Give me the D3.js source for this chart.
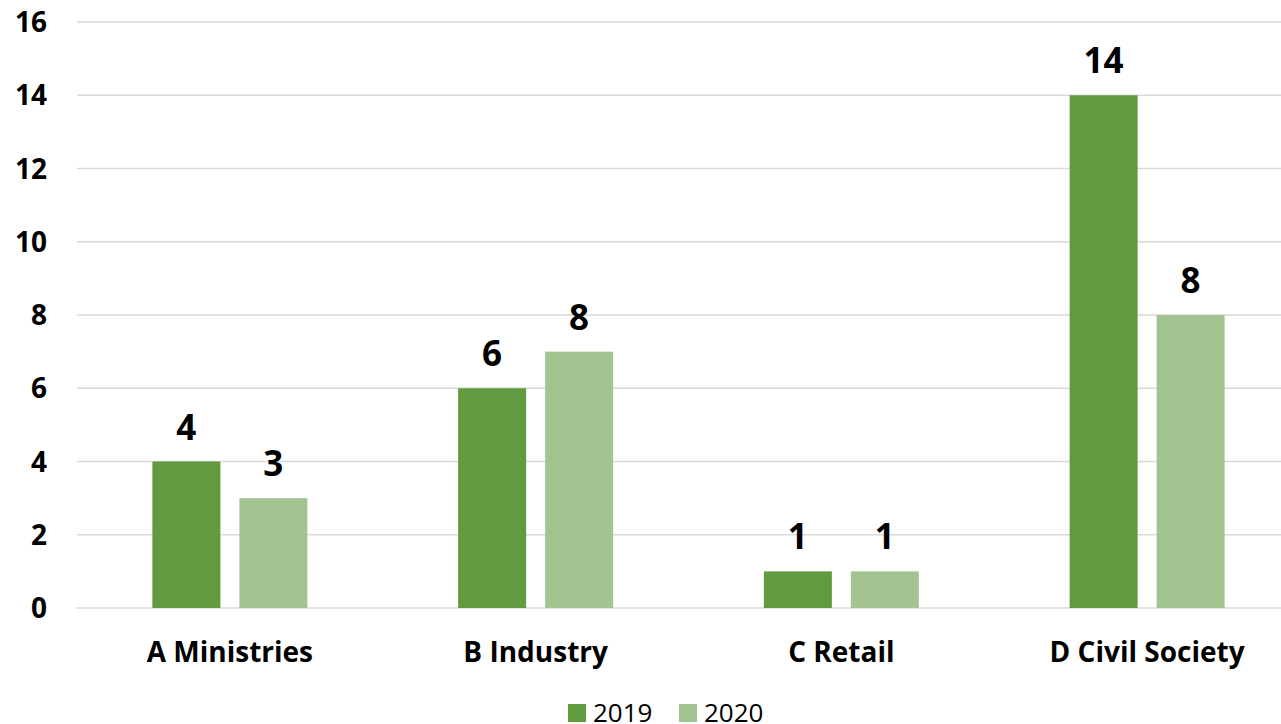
<!DOCTYPE html>
<html><head><meta charset="utf-8">
<script src="https://cdn.jsdelivr.net/npm/d3@7"></script>
<style>body{margin:0;background:#fff}svg{display:block}text{font-family:"Open Sans","Noto Sans",sans-serif}</style>
</head><body><svg id="c" width="1281" height="724"></svg>
<script>
const categories = ["A Ministries","B Industry","C Retail","D Civil Society"];
const series = ["2019","2020"];
const values2019 = [4,6,1,14];
const values2020 = [3,7,1,8];
const labels2019 = ["4","6","1","14"];
const labels2020 = ["3","8","1","8"];
const yTicks = [0,2,4,6,8,10,12,14,16];
const colors = ["#629A3F","#A2C490"];

(function(){
const svg = d3.select("#c");
const pLeft = 77, pRight = 1300, pTop = 22, pBottom = 608;
const x = d3.scaleBand().domain(categories).range([pLeft,pRight]).paddingInner(0).paddingOuter(0);
const bw = x.bandwidth();
const x1 = d3.scaleBand().domain(series).range([(bw-155)/2, (bw+155)/2]).paddingInner(19/87).paddingOuter(0);
const y = d3.scaleLinear().domain([0,16]).range([pBottom,pTop]);

svg.append("g").selectAll("line").data(yTicks).join("line")
  .attr("x1",pLeft).attr("x2",1281).attr("y1",d=>y(d)).attr("y2",d=>y(d))
  .attr("stroke","#d9d9d9").attr("stroke-width",1.5);

svg.append("g").selectAll("text").data(yTicks).join("text")
  .attr("x",47).attr("y",d=>y(d)).attr("dy","0.36em").attr("text-anchor","end")
  .attr("font-size",28).attr("font-weight","bold").attr("fill","#000").text(d=>d);

const data = categories.map((c,i)=>({c, vals:[{s:"2019",v:values2019[i],l:labels2019[i]},{s:"2020",v:values2020[i],l:labels2020[i]}]}));
const g = svg.append("g").selectAll("g").data(data).join("g").attr("transform",d=>`translate(${x(d.c)},0)`);
g.selectAll("rect").data(d=>d.vals).join("rect")
  .attr("x",d=>x1(d.s)).attr("width",x1.bandwidth())
  .attr("y",d=>y(d.v)).attr("height",d=>y(0)-y(d.v))
  .attr("fill",(d,i)=>colors[i]);
g.selectAll("text").data(d=>d.vals).join("text")
  .attr("x",d=>x1(d.s)+x1.bandwidth()/2).attr("y",d=>y(d.v)-22)
  .attr("text-anchor","middle").attr("font-size",35).attr("font-weight","bold").attr("fill","#000")
  .text(d=>d.l);

svg.append("g").selectAll("text").data(categories).join("text")
  .attr("x",d=>x(d)+bw/2).attr("y",662).attr("text-anchor","middle")
  .attr("font-size",28).attr("font-weight","bold").attr("fill","#000").text(d=>d);

const lg = svg.append("g");
const lx = [568,679];
series.forEach((s,i)=>{
  lg.append("rect").attr("x",lx[i]).attr("y",704).attr("width",18).attr("height",18).attr("fill",colors[i]);
  lg.append("text").attr("x",lx[i]+25).attr("y",722).attr("font-size",26).attr("fill","#000").text(s);
});
})();
</script></body></html>
